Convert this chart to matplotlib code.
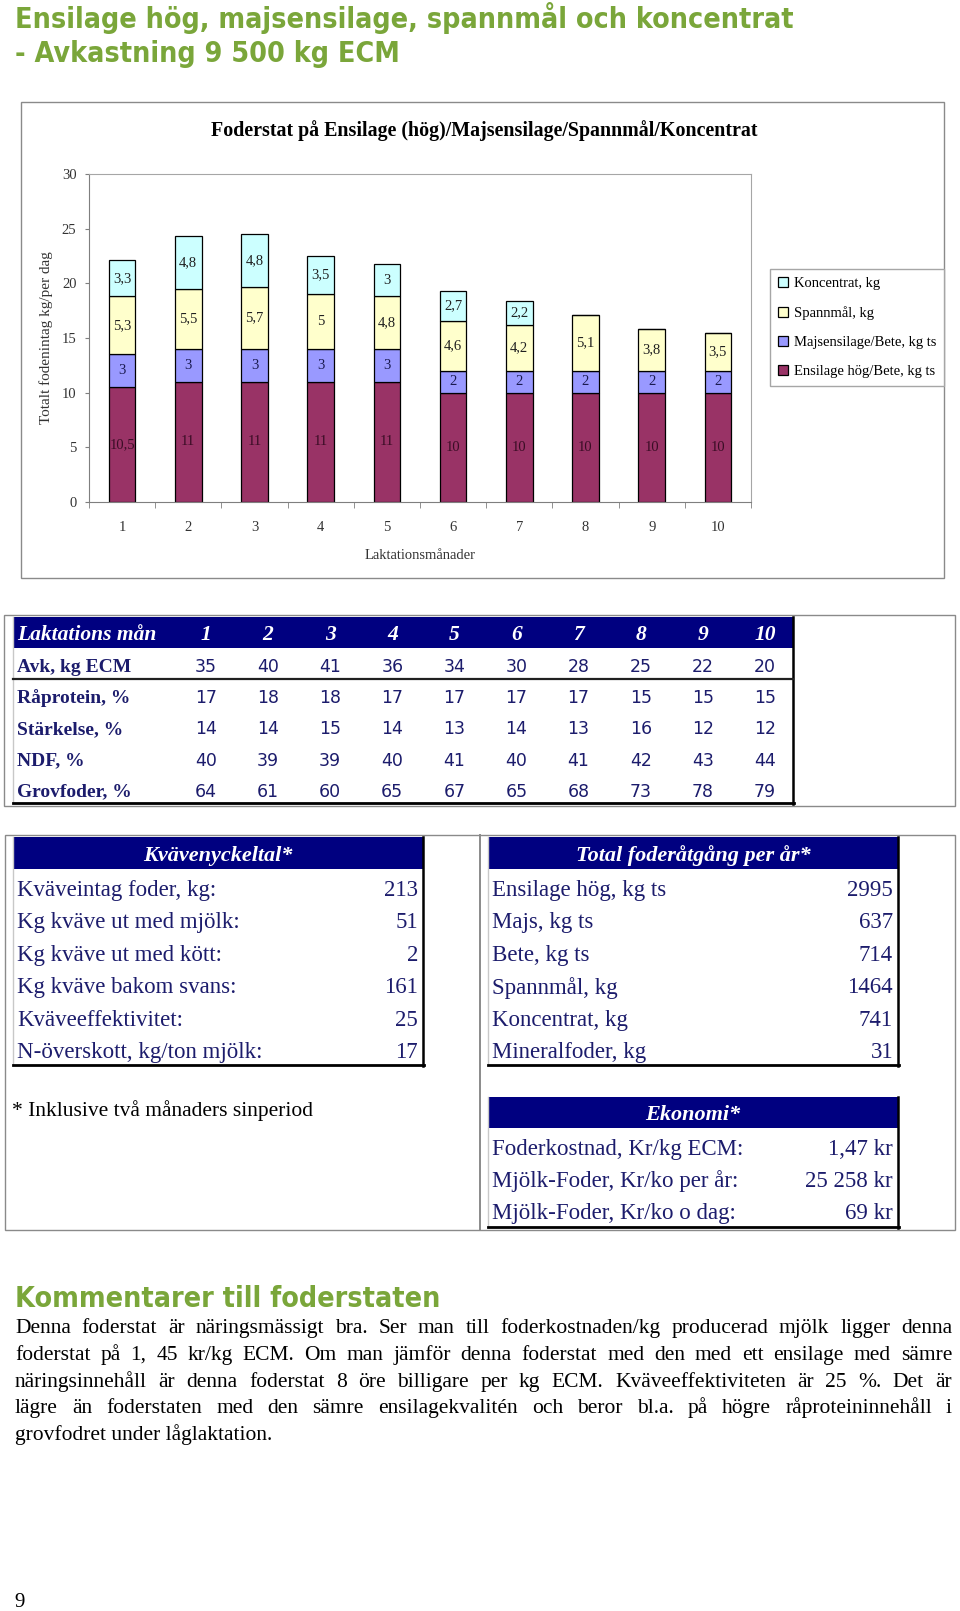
import matplotlib
matplotlib.use('Agg')
import matplotlib.pyplot as plt
from matplotlib.patches import Rectangle
from matplotlib import font_manager
import numpy as np

W, H = 960, 1611

# --- chart data ---
months = [1, 2, 3, 4, 5, 6, 7, 8, 9, 10]
ensilage = [10.5, 11, 11, 11, 11, 10, 10, 10, 10, 10]
majs = [3, 3, 3, 3, 3, 2, 2, 2, 2, 2]
spannmal = [5.3, 5.5, 5.7, 5.0, 4.8, 4.6, 4.2, 5.1, 3.8, 3.5]
koncentrat = [3.3, 4.8, 4.8, 3.5, 3.0, 2.7, 2.2, 0, 0, 0]
series_names = ['Ensilage hög/Bete, kg ts', 'Majsensilage/Bete, kg ts',
                'Spannmål, kg', 'Koncentrat, kg']
series_colors = ['#993366', '#9999ff', '#ffffcc', '#ccffff']

# --- month table ---
row_names = ['Avk, kg ECM', 'Råprotein, %', 'Stärkelse, %', 'NDF, %', 'Grovfoder, %']
avk = [35, 40, 41, 36, 34, 30, 28, 25, 22, 20]
raprotein = [17, 18, 18, 17, 17, 17, 17, 15, 15, 15]
starkelse = [14, 14, 15, 14, 13, 14, 13, 16, 12, 12]
ndf = [40, 39, 39, 40, 41, 40, 41, 42, 43, 44]
grovfoder = [64, 61, 60, 65, 67, 65, 68, 73, 78, 79]

# --- key figure tables ---
kvave_labels = ['Kväveintag foder, kg:', 'Kg kväve ut med mjölk:', 'Kg kväve ut med kött:',
                'Kg kväve bakom svans:', 'Kväveeffektivitet:', 'N-överskott, kg/ton mjölk:']
kvave_values = ['213', '51', '2', '161', '25', '17']
foder_labels = ['Ensilage hög, kg ts', 'Majs, kg ts', 'Bete, kg ts', 'Spannmål, kg',
                'Koncentrat, kg', 'Mineralfoder, kg']
foder_values = ['2995', '637', '714', '1464', '741', '31']
ekonomi_labels = ['Foderkostnad, Kr/kg ECM:', 'Mjölk-Foder, Kr/ko per år:',
                  'Mjölk-Foder, Kr/ko o dag:']
ekonomi_values = ['1,47 kr', '25 258 kr', '69 kr']

comment_lines = [
    'Denna foderstat är näringsmässigt bra. Ser man till foderkostnaden/kg producerad mjölk ligger denna',
    'foderstat på 1, 45 kr/kg ECM. Om man jämför denna foderstat med den med ett ensilage med sämre',
    'näringsinnehåll är denna foderstat 8 öre billigare per kg ECM.  Kväveeffektiviteten är 25 %. Det är',
    'lägre än foderstaten med den sämre ensilagekvalitén och beror bl.a. på högre råproteininnehåll i',
    'grovfodret under låglaktation.',
]

serif = 'Liberation Serif'
navy = '#000080'
ink = '#1c1c6c'
green = '#7aa63a'

# narrow bold sans for the green headings if there is one, else Roboto
names = {f.name for f in font_manager.fontManager.ttflist}
green_font = dict(family=['Roboto', 'DejaVu Sans'], fontweight='bold')
for f in font_manager.fontManager.ttflist:
    nm = f.name.lower()
    if ('narrow' in nm or 'condensed' in nm or str(f.stretch) in ('condensed', 'semi-condensed')) \
            and 'serif' not in nm and 'mono' not in nm:
        green_font = dict(family=f.name, fontweight='bold', fontstretch=f.stretch)
        break

fig = plt.figure(figsize=(W / 100, H / 100), dpi=100)
page = fig.add_axes([0, 0, 1, 1])
page.set_xlim(0, W)
page.set_ylim(H, 0)
page.axis('off')
renderer = fig.canvas.get_renderer()


def fit_width(t, width):
    w = t.get_window_extent(renderer).width
    t.set_fontsize(t.get_fontsize() * width / w)


def frame(x0, y0, x1, y1, color='#8a8a8a', lw=1.0):
    page.add_patch(Rectangle((x0, y0), x1 - x0, y1 - y0, fill=False,
                             edgecolor=color, lw=lw))


def table_shell(x0, x1, y0, yh, y1):
    page.add_patch(Rectangle((x0, y0), x1 - x0, yh - y0, color=navy, lw=0))
    page.plot([x0, x0], [y0, y1], color='#c8c8c8', lw=1)
    page.plot([x1, x1], [y0, y1 + 1], color='black', lw=1.8)
    page.plot([x0, x1 + 1], [y1, y1], color='black', lw=2.0)


# headings
t = page.text(15, 28, 'Ensilage hög, majsensilage, spannmål och koncentrat',
              color=green, fontsize=24, va='baseline', ha='left', **green_font)
fit_width(t, 779)
t2 = page.text(15, 62, '- Avkastning 9 500 kg ECM', color=green, fontsize=t.get_fontsize(),
               va='baseline', ha='left', **green_font)

# chart box
frame(21, 102, 944, 578)
ct = page.text(484, 131, 'Foderstat på Ensilage (hög)/Majsensilage/Spannmål/Koncentrat',
               family=serif, fontweight='bold', fontsize=12, ha='center', va='center')
fit_width(ct, 545)

ax = fig.add_axes([89 / W, 1 - 502 / H, 662 / W, 328 / H])
x = np.array(months)
bottom = np.zeros(len(months))
label_colors = ['#3a0d25', '#1a1a50', '#202020', '#202020']
for vals, name, col, lc in zip([ensilage, majs, spannmal, koncentrat], series_names,
                               series_colors, label_colors):
    v = np.array(vals, float)
    bars = ax.bar(x, v, 0.4, bottom=bottom, color=col, edgecolor='black',
                  linewidth=0.9, label=name)
    labels = [f'{a:g}'.replace('.', ',') if a > 0 else '' for a in v]
    ax.bar_label(bars, labels=labels, label_type='center', fontsize=10.5,
                 family=serif, color=lc)
    bottom += v

ax.set_xlim(0.5, 10.5)
ax.set_ylim(0, 30)
ax.set_yticks(range(0, 31, 5))
ax.set_xticks(months)
ax.set_xticks(np.arange(0.5, 11, 1), minor=True)
ax.tick_params(axis='x', which='major', length=0, pad=14, labelsize=10.5, labelcolor='#333333')
ax.tick_params(axis='x', which='minor', length=4, color='#7f7f7f')
ax.tick_params(axis='y', length=3, pad=6, labelsize=10.5, labelcolor='#333333', color='#7f7f7f')
for lab in ax.get_xticklabels() + ax.get_yticklabels():
    lab.set_family(serif)
for s in ['top', 'right']:
    ax.spines[s].set_color('#a6a6a6')
for s in ['left', 'bottom']:
    ax.spines[s].set_color('#7f7f7f')
ax.set_xlabel('Laktationsmånader', family=serif, fontsize=10.5, color='#333333')
ax.xaxis.set_label_coords(0.5, -0.142)
ax.set_ylabel('Totalt fodenintag kg/per dag', family=serif, fontsize=11, color='#333333')
ax.yaxis.set_label_coords(-0.055, 0.5)

handles, labs = ax.get_legend_handles_labels()
fig.legend(handles[::-1], labs[::-1], loc='upper left',
           bbox_to_anchor=(770 / W, 1 - 269 / H), bbox_transform=fig.transFigure,
           frameon=True, fancybox=False, edgecolor='#a6a6a6', framealpha=1,
           prop=dict(family=serif, size=10.5), handlelength=0.65, handleheight=0.65,
           handletextpad=0.45, labelspacing=1.1, borderpad=0.55, borderaxespad=0)

# month table
frame(4, 615, 955, 806)
table_shell(13, 793, 617, 648, 803)
page.plot([13, 793], [679, 679], color='#202020', lw=1.6)
col_x = 206 + 62.1 * np.arange(len(months))
row_y = 665 + 31.2 * np.arange(len(row_names))
page.text(17, 633, 'Laktations mån', color='white', family=serif, fontweight='bold',
          fontstyle='italic', fontsize=15.5, ha='left', va='center_baseline')
for cx, m in zip(col_x, months):
    page.text(cx, 633, str(m), color='white', family=serif, fontweight='bold',
              fontstyle='italic', fontsize=15.5, ha='center', va='center_baseline')
for ry, name, vals in zip(row_y, row_names, [avk, raprotein, starkelse, ndf, grovfoder]):
    page.text(17, ry, name, color=ink, family=serif, fontweight='bold', fontsize=14,
              ha='left', va='center_baseline')
    for cx, v in zip(col_x, vals):
        page.text(cx, ry, str(v), color=ink, family='DejaVu Sans', fontsize=12.5,
                  ha='center', va='center_baseline')

# key figure tables
frame(5, 835, 955, 1230)
page.plot([480, 480], [835, 1230], color='#8a8a8a', lw=1.4)


def key_table(x0, x1, y0, yh, y1, title, labels, values, ry0, dy):
    table_shell(x0, x1, y0, yh, y1)
    page.text((x0 + x1) / 2, (y0 + yh) / 2, title, color='white', family=serif,
              fontweight='bold', fontstyle='italic', fontsize=16, ha='center',
              va='center_baseline')
    for i, (lab, val) in enumerate(zip(labels, values)):
        yy = ry0 + dy * i
        page.text(x0 + 4, yy, lab, color=ink, family=serif, fontsize=16.5,
                  ha='left', va='center_baseline')
        page.text(x1 - 5, yy, val, color=ink, family=serif, fontsize=16.5,
                  ha='right', va='center_baseline')


key_table(13, 423, 837, 869, 1065, 'Kvävenyckeltal*', kvave_labels, kvave_values, 888, 32.4)
key_table(488, 898, 837, 869, 1065, 'Total foderåtgång per år*', foder_labels, foder_values,
          888, 32.4)
key_table(488, 898, 1097, 1128, 1227, 'Ekonomi*', ekonomi_labels, ekonomi_values, 1147, 32)

page.text(12, 1108, '* Inklusive två månaders sinperiod', family=serif, fontsize=15.5,
          ha='left', va='center_baseline')

# comments
kt = page.text(15, 1307, 'Kommentarer till foderstaten', color=green, fontsize=24,
               va='baseline', ha='left', **green_font)
fit_width(kt, 425)

x_left, x_right = 15, 952
for i, line in enumerate(comment_lines):
    yb = 1333 + 26.8 * i
    words = line.split()
    if i == len(comment_lines) - 1:
        page.text(x_left, yb, line, family=serif, fontsize=15.5, ha='left', va='baseline')
        continue
    texts = [page.text(0, yb, w, family=serif, fontsize=15.5, ha='left', va='baseline')
             for w in words]
    widths = [tt.get_window_extent(renderer).width for tt in texts]
    gap = (x_right - x_left - sum(widths)) / (len(words) - 1)
    xx = x_left
    for tt, w in zip(texts, widths):
        tt.set_x(xx)
        xx += w + gap

page.text(20, 1600, '9', family=serif, fontsize=15, ha='center', va='center_baseline')

fig.savefig('out.png', dpi=100)
plt.close(fig)
